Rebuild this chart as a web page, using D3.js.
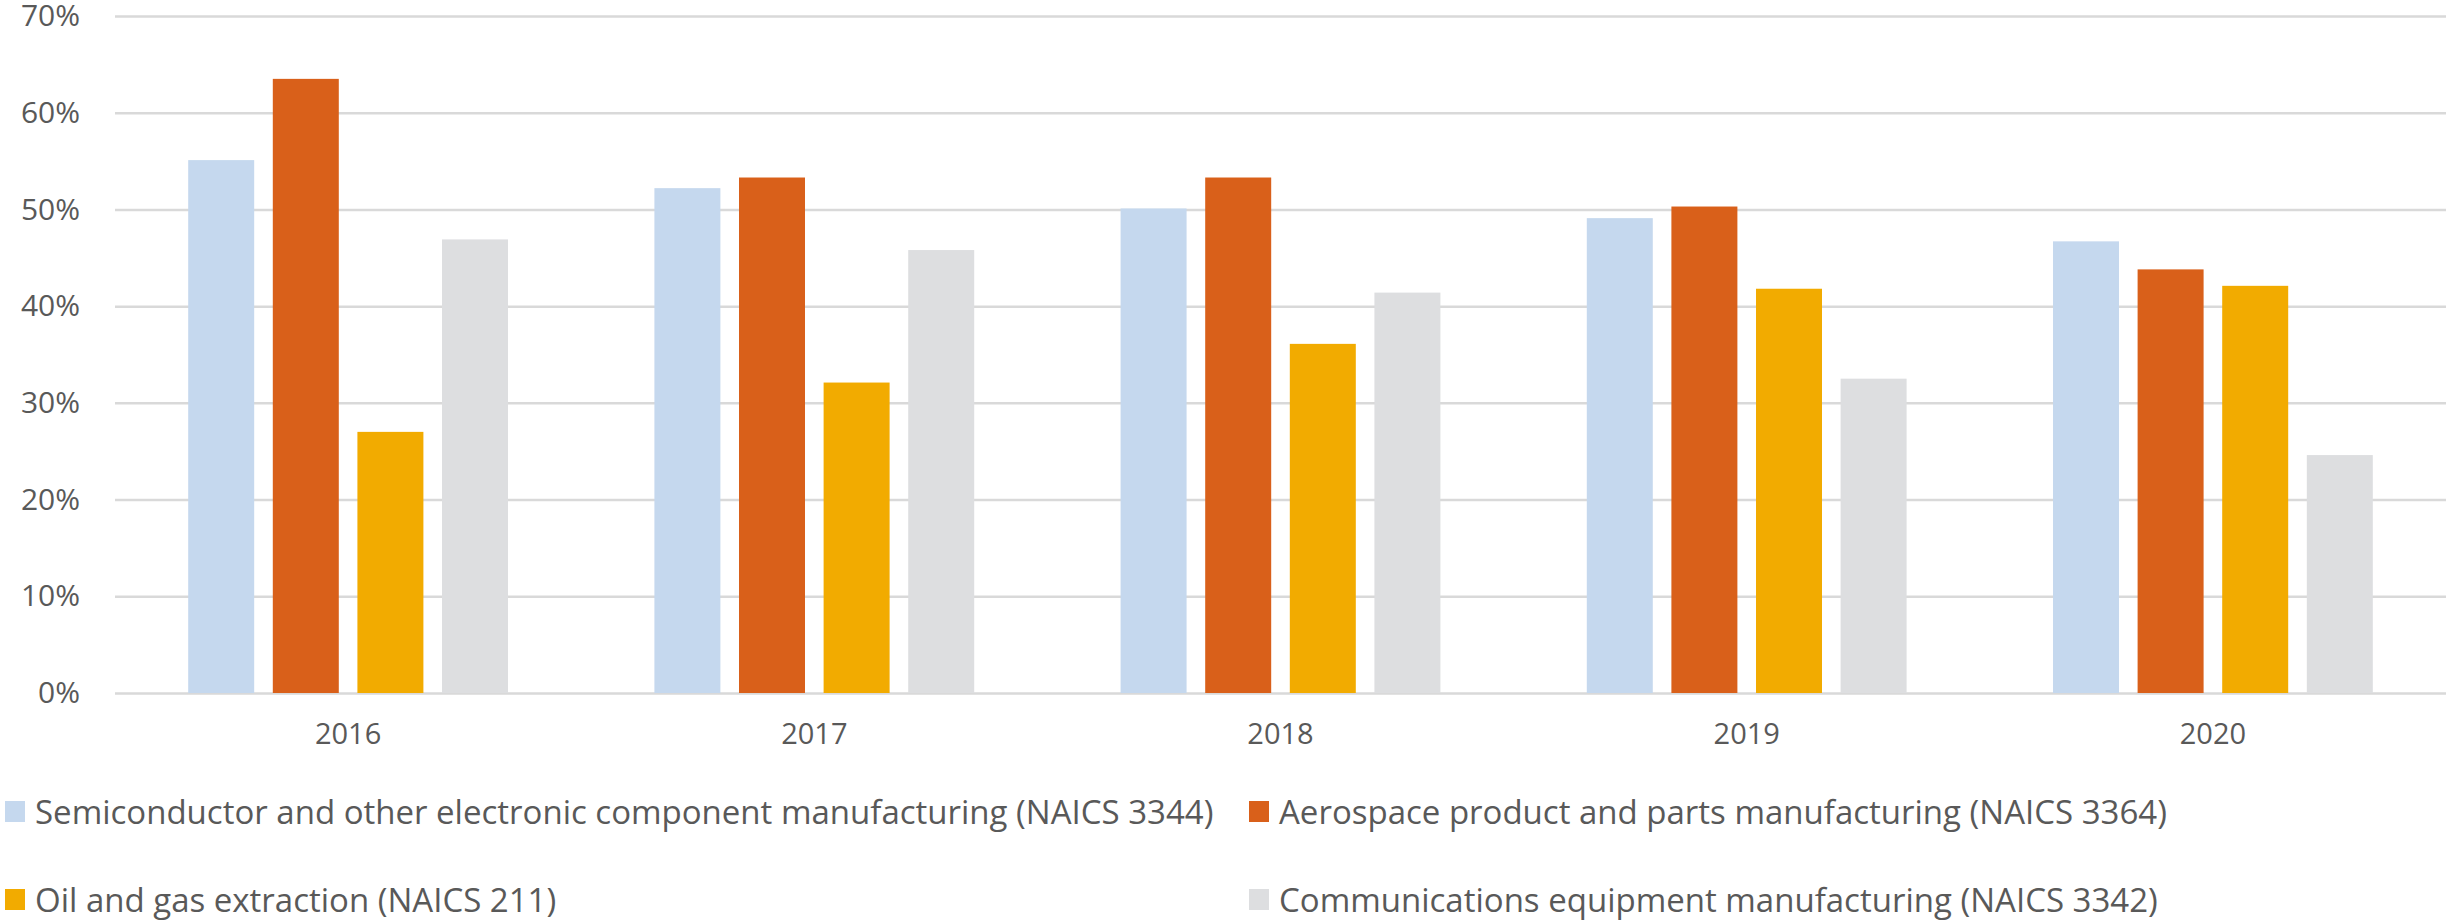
<!DOCTYPE html>
<html lang="en">
<head>
    <meta charset="UTF-8">
    <title>Share by industry</title>
    <script src="https://cdn.jsdelivr.net/npm/d3@7"></script>
    <style>
        body { margin: 0; background: #fff; }
        text { font-family: "Open Sans", sans-serif; fill: #595959; }
    </style>
</head>
<body>
<div id="chart"></div>
<script>
    var years = ["2016", "2017", "2018", "2019", "2020"];
    var seriesNames = [
        "Semiconductor and other electronic component manufacturing (NAICS 3344)",
        "Aerospace product and parts manufacturing (NAICS 3364)",
        "Oil and gas extraction (NAICS 211)",
        "Communications equipment manufacturing (NAICS 3342)"
    ];
    var semiconductor = [55.1, 52.2, 50.1, 49.1, 46.7];
    var aerospace = [63.5, 53.3, 53.3, 50.3, 43.8];
    var oilGas = [27.0, 32.1, 36.1, 41.8, 42.1];
    var communications = [46.9, 45.8, 41.4, 32.5, 24.6];
    var yTicks = [0, 10, 20, 30, 40, 50, 60, 70];
    var colors = ["#C5D8EE", "#D9601A", "#F2AB00", "#DDDEE0"];

    var seriesValues = [semiconductor, aerospace, oilGas, communications];

    var W = 2448, H = 921;
    var plotLeft = 115, plotRight = 2446, plotTop = 16, plotBottom = 693;

    var svg = d3.select("#chart").append("svg")
        .attr("width", W)
        .attr("height", H);

    var x0 = d3.scaleBand()
        .domain(years)
        .range([plotLeft, plotRight])
        .paddingInner(0.314)
        .paddingOuter(0.157);

    var x1 = d3.scaleBand()
        .domain(d3.range(seriesNames.length))
        .range([0, x0.bandwidth()])
        .paddingInner(0.22);

    var y = d3.scaleLinear()
        .domain([0, 70])
        .range([plotBottom, plotTop]);

    // gridlines + y labels
    var yAxis = d3.axisLeft(y)
        .tickValues(yTicks)
        .tickSize(-(plotRight - plotLeft))
        .tickFormat(function(d) { return d + "%"; });
    var gy = svg.append("g")
        .attr("transform", "translate(" + plotLeft + ",0)")
        .call(yAxis);
    gy.select(".domain").remove();
    gy.selectAll(".tick line").attr("stroke", "#D9D9D9").attr("stroke-width", 2.5);
    gy.selectAll(".tick text")
        .attr("x", -35)
        .attr("font-size", 30)
        .style("font-family", "'Open Sans', sans-serif")
        .attr("fill", "#595959");

    // bars
    var groups = svg.selectAll(".year")
        .data(years)
        .enter()
        .append("g")
        .attr("class", "year")
        .attr("transform", function(d) { return "translate(" + x0(d) + ",0)"; });

    groups.selectAll("rect")
        .data(function(d, i) {
            return seriesValues.map(function(s, k) { return { k: k, v: s[i] }; });
        })
        .enter()
        .append("rect")
        .attr("x", function(d) { return x1(d.k); })
        .attr("y", function(d) { return y(d.v); })
        .attr("width", x1.bandwidth())
        .attr("height", function(d) { return plotBottom - y(d.v); })
        .attr("fill", function(d) { return colors[d.k]; });

    // x labels
    var xAxis = d3.axisBottom(x0).tickSize(0).tickPadding(30);
    var gx = svg.append("g")
        .attr("transform", "translate(0," + plotBottom + ")")
        .call(xAxis);
    gx.select(".domain").remove();
    gx.selectAll(".tick text")
        .attr("font-size", 29)
        .style("font-family", "'Open Sans', sans-serif")
        .attr("fill", "#595959");

    // legend, two rows of two
    var legendPos = [
        { x: 5, y: 801 },
        { x: 1249, y: 801 },
        { x: 5, y: 889 },
        { x: 1249, y: 889 }
    ];
    var legend = svg.selectAll(".legend")
        .data(seriesNames)
        .enter()
        .append("g")
        .attr("class", "legend")
        .attr("transform", function(d, i) { return "translate(" + legendPos[i].x + "," + legendPos[i].y + ")"; });
    legend.append("rect")
        .attr("width", 20)
        .attr("height", 21)
        .attr("fill", function(d, i) { return colors[i]; });
    legend.append("text")
        .attr("x", 30)
        .attr("y", 23)
        .attr("font-size", 33)
        .text(function(d) { return d; });
</script>
</body>
</html>
